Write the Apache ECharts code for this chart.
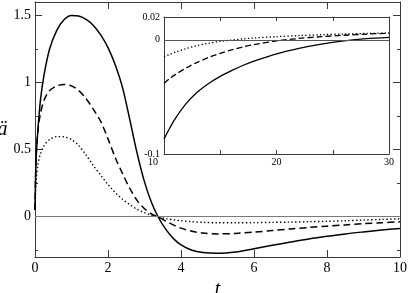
<!DOCTYPE html>
<html>
<head>
<meta charset="utf-8">
<script src="https://cdn.jsdelivr.net/npm/echarts@6/dist/echarts.min.js"></script>
<style>html,body{margin:0;padding:0;background:#fff;}#c{width:409px;height:293px;}</style>
</head>
<body>
<div id="c"></div>
<script>
// ---- data ----
const mainT      = [0, 0.03, 0.08, 0.15, 0.25, 0.4, 0.6, 0.8, 1.0, 1.2, 1.4, 1.6, 1.8, 2.0, 2.2, 2.4, 2.6, 2.8, 3.0, 3.2, 3.4, 3.6, 3.8, 4.0, 4.3, 4.6, 5.0, 5.5, 6, 6.5, 7, 7.5, 8, 8.5, 9, 9.5, 10];
const mainSolid  = [0.05, 0.42, 0.65, 0.87, 1.06, 1.25, 1.39, 1.47, 1.5, 1.495, 1.47, 1.425, 1.355, 1.26, 1.13, 0.96, 0.72, 0.47, 0.26, 0.1, -0.015, -0.1, -0.165, -0.21, -0.25, -0.267, -0.272, -0.262, -0.238, -0.213, -0.189, -0.166, -0.146, -0.128, -0.113, -0.099, -0.087];
const mainDashed = [0.05, 0.45, 0.64, 0.77, 0.87, 0.94, 0.975, 0.985, 0.975, 0.94, 0.88, 0.8, 0.71, 0.58, 0.44, 0.32, 0.21, 0.12, 0.06, 0.02, -0.005, -0.035, -0.062, -0.085, -0.108, -0.122, -0.128, -0.124, -0.115, -0.103, -0.091, -0.08, -0.07, -0.061, -0.052, -0.045, -0.038];
const mainDotted = [0.05, 0.27, 0.39, 0.47, 0.53, 0.575, 0.597, 0.595, 0.575, 0.53, 0.46, 0.38, 0.31, 0.24, 0.18, 0.13, 0.09, 0.055, 0.03, 0.01, -0.003, -0.014, -0.023, -0.03, -0.037, -0.042, -0.045, -0.045, -0.044, -0.042, -0.04, -0.037, -0.034, -0.03, -0.025, -0.02, -0.015];

const insetT      = [10, 10.5, 11, 12, 13, 14, 15, 16, 17, 18, 20, 22, 24, 26, 28, 30];
const insetSolid  = [-0.087, -0.0775, -0.069, -0.0555, -0.0455, -0.038, -0.032, -0.027, -0.0225, -0.0187, -0.0123, -0.0075, -0.0038, -0.001, 0.001, 0.0022];
const insetDashed = [-0.038, -0.034, -0.0305, -0.0245, -0.0195, -0.0153, -0.0118, -0.0088, -0.0063, -0.0042, -0.001, 0.0012, 0.0028, 0.004, 0.005, 0.0058];
const insetDotted = [-0.015, -0.0128, -0.0108, -0.0076, -0.005, -0.003, -0.0014, -0.0002, 0.0008, 0.0016, 0.0028, 0.0037, 0.0045, 0.0051, 0.0056, 0.006];

const mainYLabels  = [0, 0.5, 1, 1.5];
const mainYMinor   = [-0.25, 0.25, 0.75, 1.25];
const insetXLabels = [10, 20, 30];
const insetYLabels = [-0.1, 0, 0.02];

// ---- chart ----
const FONT = 'Liberation Serif';
const FRAME = '#3a3a3a';
const zip = (xs, ys) => xs.map((x, i) => [x, ys[i]]);

const axisLineOn = {show: true, onZero: false, lineStyle: {color: FRAME, width: 1}};
const noSplit = {show: false};

const chart = echarts.init(document.getElementById('c'), null, {renderer: 'canvas'});
chart.setOption({
  animation: false,
  backgroundColor: '#fff',
  grid: [
    {left: 35, right: 9, top: 2, bottom: 36, show: false, containLabel: false, outerBoundsMode: 'none'},
    {left: 164, top: 17, width: 225, height: 137, show: true, backgroundColor: '#fff', borderWidth: 0,
     containLabel: false, outerBoundsMode: 'none'}
  ],
  xAxis: [
    {gridIndex: 0, type: 'value', min: 0, max: 10, interval: 2, position: 'bottom',
     axisLine: axisLineOn, splitLine: noSplit,
     axisTick: {inside: true, length: 7, lineStyle: {color: FRAME}},
     axisLabel: {color: '#000', fontFamily: FONT, fontSize: 14, margin: 4},
     name: 't', nameLocation: 'middle', nameGap: 16,
     nameTextStyle: {color: '#000', fontFamily: FONT, fontStyle: 'italic', fontSize: 20}},
    {gridIndex: 0, type: 'value', min: 0, max: 10, interval: 2, position: 'top',
     axisLine: axisLineOn, splitLine: noSplit,
     axisTick: {inside: true, length: 7, lineStyle: {color: FRAME}},
     axisLabel: {show: false}},
    {gridIndex: 1, type: 'value', min: 10, max: 30, interval: 5, position: 'bottom',
     axisLine: axisLineOn, splitLine: noSplit,
     axisTick: {inside: true, length: 4, lineStyle: {color: FRAME}},
     axisLabel: {customValues: insetXLabels, color: '#000', fontFamily: FONT, fontSize: 10, margin: 3,
       formatter: v => v === 10 ? '{l|10}' : String(v),
       rich: {l: {fontFamily: FONT, fontSize: 10, color: '#000', padding: [0, 22, 0, 0]}}}},
    {gridIndex: 1, type: 'value', min: 10, max: 30, interval: 5, position: 'top',
     axisLine: axisLineOn, splitLine: noSplit,
     axisTick: {inside: true, length: 4, lineStyle: {color: FRAME}},
     axisLabel: {show: false}}
  ],
  yAxis: [
    {gridIndex: 0, type: 'value', min: -0.3, max: 1.6, position: 'left',
     axisLine: axisLineOn, splitLine: noSplit,
     axisTick: {inside: true, length: 7, customValues: mainYLabels, lineStyle: {color: FRAME}},
     axisLabel: {customValues: mainYLabels, color: '#000', fontFamily: FONT, fontSize: 14, margin: 4},
     name: 'ä', nameLocation: 'middle', nameRotate: 0, nameGap: 20,
     nameTextStyle: {color: '#000', fontFamily: FONT, fontStyle: 'italic', fontSize: 20}},
    {gridIndex: 0, type: 'value', min: -0.3, max: 1.6, position: 'right',
     axisLine: axisLineOn, splitLine: noSplit,
     axisTick: {inside: true, length: 7, customValues: mainYLabels, lineStyle: {color: FRAME}},
     axisLabel: {show: false}},
    {gridIndex: 0, type: 'value', min: -0.3, max: 1.6, position: 'left',
     axisLine: {show: false, onZero: false}, splitLine: noSplit,
     axisTick: {inside: true, length: 3, customValues: mainYMinor, lineStyle: {color: FRAME}},
     axisLabel: {show: false}},
    {gridIndex: 0, type: 'value', min: -0.3, max: 1.6, position: 'right',
     axisLine: {show: false, onZero: false}, splitLine: noSplit,
     axisTick: {inside: true, length: 3, customValues: mainYMinor, lineStyle: {color: FRAME}},
     axisLabel: {show: false}},
    {gridIndex: 1, type: 'value', min: -0.1, max: 0.02, position: 'left',
     axisLine: axisLineOn, splitLine: noSplit,
     axisTick: {show: false},
     axisLabel: {customValues: insetYLabels, color: '#000', fontFamily: FONT, fontSize: 10, margin: 4}},
    {gridIndex: 1, type: 'value', min: -0.1, max: 0.02, position: 'right',
     axisLine: axisLineOn, splitLine: noSplit,
     axisTick: {show: false}, axisLabel: {show: false}}
  ],
  series: [
    {type: 'line', xAxisIndex: 0, yAxisIndex: 0, data: zip(mainT, mainSolid), showSymbol: false,
     smooth: 0.3, lineStyle: {color: '#000', width: 1.5}, z: 3,
     markLine: {silent: true, symbol: 'none', label: {show: false},
       lineStyle: {color: '#7a7a7a', width: 1, type: 'solid'}, data: [{yAxis: 0}]}},
    {type: 'line', xAxisIndex: 0, yAxisIndex: 0, data: zip(mainT, mainDashed), showSymbol: false,
     smooth: 0.3, lineStyle: {color: '#000', width: 1.5, type: [7, 4]}, z: 3},
    {type: 'line', xAxisIndex: 0, yAxisIndex: 0, data: zip(mainT, mainDotted), showSymbol: false,
     smooth: 0.3, lineStyle: {color: '#000', width: 1.4, type: [1.4, 2.4]}, z: 3},
    {type: 'line', xAxisIndex: 2, yAxisIndex: 4, data: zip(insetT, insetSolid), showSymbol: false,
     smooth: 0.3, lineStyle: {color: '#000', width: 1.3}, z: 3,
     markLine: {silent: true, symbol: 'none', label: {show: false},
       lineStyle: {color: '#555', width: 1, type: 'solid'}, data: [{yAxis: 0}]}},
    {type: 'line', xAxisIndex: 2, yAxisIndex: 4, data: zip(insetT, insetDashed), showSymbol: false,
     smooth: 0.3, lineStyle: {color: '#000', width: 1.3, type: [6, 3]}, z: 3},
    {type: 'line', xAxisIndex: 2, yAxisIndex: 4, data: zip(insetT, insetDotted), showSymbol: false,
     smooth: 0.3, lineStyle: {color: '#000', width: 1.3, type: [1.3, 2.3]}, z: 3}
  ]
});
</script>
</body>
</html>
